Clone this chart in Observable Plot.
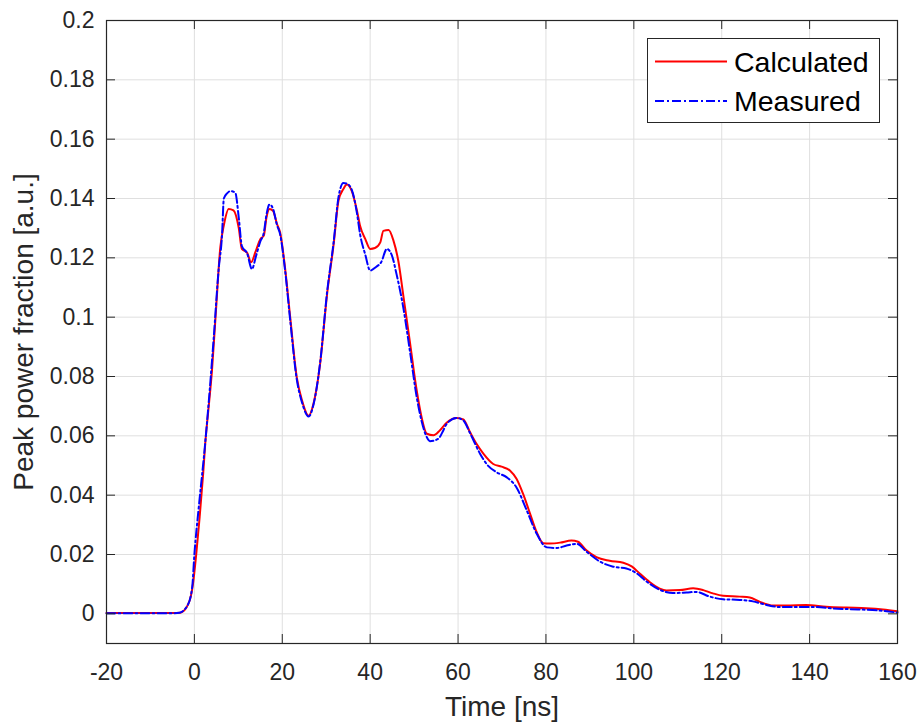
<!DOCTYPE html>
<html>
<head>
<meta charset="utf-8">
<script src="https://cdn.jsdelivr.net/npm/d3@7"></script>
<script src="https://cdn.jsdelivr.net/npm/@observablehq/plot@0.6"></script>
<style>
  html, body { margin: 0; padding: 0; background: #fff; }
  #wrap { position: relative; width: 919px; height: 722px; }
  #legend { position: absolute; left: 0; top: 0; }
</style>
</head>
<body>
<div id="wrap"></div>
<script>
// ---- data ----
const seriesNames = ["Calculated", "Measured"];
const seriesColors = ["#ff0000", "#0000ff"];

const calcT = [-20, -10, -5, -3.2, -1.3, -0.3, 0.4, 1.2, 2.0, 2.5, 3.2, 4.0, 4.9, 5.9, 6.7, 7.8, 8.9, 10.1, 10.8, 12.0, 12.9, 13.9, 15.0, 15.8, 16.4, 17.1, 17.9, 18.8, 19.5, 20.7, 21.8, 23.3, 24.5, 26.0, 27.1, 28.6, 30.2, 31.7, 32.8, 33.9, 34.7, 35.8, 37.0, 37.7, 38.9, 40.0, 41.1, 42.3, 43.0, 44.2, 45.3, 46.4, 47.6, 49.1, 50.6, 51.7, 52.9, 54.4, 55.9, 57.4, 59.7, 61.2, 62.7, 64.2, 65.8, 68.0, 69.9, 71.8, 73.3, 74.8, 76.4, 77.9, 79.4, 80.9, 83.2, 85.8, 87.3, 89.2, 91.5, 94.5, 97.6, 99.6, 101.4, 103.6, 105.9, 107.4, 110.5, 113.5, 115.8, 118.0, 120.3, 124.1, 126.4, 128.6, 131.7, 134.7, 139.2, 143.8, 148.3, 152.9, 156.7, 160];
const calcV = [0.0003, 0.0003, 0.0003, 0.0004, 0.0036, 0.0103, 0.0198, 0.0327, 0.0473, 0.058, 0.069, 0.082, 0.102, 0.1235, 0.131, 0.1365, 0.136, 0.130, 0.123, 0.1217, 0.1185, 0.122, 0.1263, 0.1275, 0.1336, 0.1365, 0.1358, 0.1314, 0.1286, 0.1157, 0.100, 0.0797, 0.0719, 0.0668, 0.0708, 0.0842, 0.1078, 0.1247, 0.1393, 0.1432, 0.1447, 0.1426, 0.1359, 0.1308, 0.1263, 0.123, 0.1233, 0.1252, 0.1291, 0.1294, 0.1258, 0.119, 0.1067, 0.091, 0.0752, 0.0663, 0.0607, 0.0602, 0.0619, 0.0644, 0.066, 0.0655, 0.0613, 0.0573, 0.0539, 0.0505, 0.0496, 0.0483, 0.0455, 0.0404, 0.0337, 0.0275, 0.0238, 0.0237, 0.024, 0.0247, 0.0243, 0.0214, 0.0191, 0.0179, 0.0172, 0.0159, 0.0135, 0.0107, 0.0085, 0.0079, 0.008, 0.0086, 0.008, 0.0069, 0.0061, 0.0058, 0.0055, 0.0041, 0.0028, 0.0028, 0.003, 0.0024, 0.0021, 0.0019, 0.0015, 0.0009];

const measT = [-20, -10, -5, -3.4, -1.5, -0.5, 0.0, 1.0, 2.3, 3.3, 4.4, 5.5, 6.3, 6.7, 7.5, 8.2, 9.3, 10.1, 10.8, 12.0, 13.1, 14.0, 15.0, 15.8, 16.4, 17.1, 17.9, 18.8, 19.5, 20.7, 21.8, 23.3, 24.5, 26.0, 27.1, 28.6, 30.2, 31.7, 32.8, 33.9, 34.7, 35.8, 37.0, 37.7, 38.9, 40.0, 41.4, 42.5, 43.8, 44.9, 46.0, 47.6, 49.1, 50.6, 51.7, 52.9, 53.6, 55.5, 56.7, 57.4, 59.7, 61.2, 62.7, 65.0, 66.5, 68.8, 71.1, 73.3, 75.6, 77.9, 80.2, 82.5, 84.7, 87.0, 89.2, 92.3, 95.3, 98.3, 100.6, 102.9, 105.9, 108.9, 112.0, 114.2, 117.3, 120.3, 124.1, 127.1, 130.2, 133.2, 137.7, 141.5, 145.3, 151.0, 156.7, 160];
const measV = [0.0002, 0.0002, 0.0002, 0.0004, 0.003, 0.009, 0.02, 0.036, 0.055, 0.072, 0.093, 0.1158, 0.128, 0.140, 0.1418, 0.1425, 0.142, 0.1335, 0.124, 0.1215, 0.1162, 0.1205, 0.1255, 0.1285, 0.1345, 0.138, 0.1365, 0.131, 0.128, 0.115, 0.099, 0.079, 0.0712, 0.0665, 0.0705, 0.0845, 0.1085, 0.1255, 0.1405, 0.1452, 0.145, 0.143, 0.135, 0.128, 0.121, 0.1157, 0.117, 0.1185, 0.123, 0.121, 0.1145, 0.1027, 0.088, 0.073, 0.065, 0.0595, 0.0582, 0.059, 0.062, 0.064, 0.066, 0.0652, 0.061, 0.054, 0.0505, 0.0477, 0.046, 0.0426, 0.035, 0.027, 0.0224, 0.0222, 0.023, 0.0236, 0.021, 0.0176, 0.0159, 0.0153, 0.0137, 0.0109, 0.0081, 0.007, 0.0072, 0.0074, 0.0058, 0.0049, 0.0047, 0.0042, 0.003, 0.0023, 0.0023, 0.0023, 0.0018, 0.0015, 0.001, 0.0004];

const xTicks = [-20, 0, 20, 40, 60, 80, 100, 120, 140, 160];
const yTicks = [0, 0.02, 0.04, 0.06, 0.08, 0.1, 0.12, 0.14, 0.16, 0.18, 0.2];
const xDomain = [-20, 160];
const yDomain = [-0.01, 0.2];
const xLabel = "Time [ns]";
const yLabel = "Peak power fraction [a.u.]";

// ---- build ----
const calc = calcT.map((t, i) => ({t, v: calcV[i]}));
const meas = measT.map((t, i) => ({t, v: measV[i]}));

const W = 919, H = 722;
const mL = 106, mR = 22, mT = 20, mB = 79;
const fw = W - mL - mR, fh = H - mT - mB;
const tickLen = 9;
const axisColor = "#262626";
const font = "'Liberation Sans', Arial, Helvetica, sans-serif";

const chart = Plot.plot({
  width: W, height: H,
  marginLeft: mL, marginRight: mR, marginTop: mT, marginBottom: mB,
  style: {fontFamily: font, background: "#fff", color: axisColor},
  x: {domain: xDomain, ticks: xTicks},
  y: {domain: yDomain, ticks: yTicks},
  marks: [
    Plot.gridX(xTicks, {stroke: "#dfdfdf", strokeOpacity: 1, strokeWidth: 1}),
    Plot.gridY(yTicks, {stroke: "#dfdfdf", strokeOpacity: 1, strokeWidth: 1}),
    Plot.line(calc, {x: "t", y: "v", stroke: seriesColors[0], strokeWidth: 2, curve: "monotone-x"}),
    Plot.line(meas, {x: "t", y: "v", stroke: seriesColors[1], strokeWidth: 2, strokeDasharray: "9,3,2,3", curve: "monotone-x"}),
    // inward ticks on all four sides
    Plot.tickX(xTicks, {x: d => d, stroke: axisColor, strokeWidth: 1, insetTop: fh - tickLen}),
    Plot.tickX(xTicks, {x: d => d, stroke: axisColor, strokeWidth: 1, insetBottom: fh - tickLen}),
    Plot.tickY(yTicks, {y: d => d, stroke: axisColor, strokeWidth: 1, insetRight: fw - tickLen}),
    Plot.tickY(yTicks, {y: d => d, stroke: axisColor, strokeWidth: 1, insetLeft: fw - tickLen}),
    Plot.frame({stroke: axisColor, strokeWidth: 1.2}),
    Plot.axisX(xTicks, {tickSize: 0, tickPadding: 20, fontSize: 23, fill: axisColor, label: null, tickFormat: d => String(d)}),
    Plot.axisY(yTicks, {tickSize: 0, tickPadding: 12, fontSize: 23, fill: axisColor, label: null, tickFormat: d => String(d)}),
    Plot.text([xLabel], {frameAnchor: "bottom", lineAnchor: "middle", textAnchor: "middle", dy: 64, fontSize: 28, fill: axisColor}),
    Plot.text([yLabel], {frameAnchor: "left", lineAnchor: "middle", textAnchor: "middle", rotate: -90, dx: -82, fontSize: 28, fill: axisColor})
  ]
});

const wrap = document.getElementById("wrap");
wrap.appendChild(chart);

// ---- legend ----
const lg = d3.select(wrap).append("svg")
  .attr("id", "legend")
  .attr("width", W).attr("height", H)
  .style("pointer-events", "none")
  .style("font-family", font);
const box = {x: 647.5, y: 38.5, w: 232, h: 84};
lg.append("rect").attr("x", box.x).attr("y", box.y).attr("width", box.w).attr("height", box.h)
  .attr("fill", "#fff").attr("stroke", axisColor).attr("stroke-width", 1);
const rows = [61.5, 101];
seriesNames.forEach((name, i) => {
  lg.append("line").attr("x1", 655).attr("x2", 727).attr("y1", rows[i]).attr("y2", rows[i])
    .attr("stroke", seriesColors[i]).attr("stroke-width", 2)
    .attr("stroke-dasharray", i === 1 ? "9,3,2,3" : null);
  lg.append("text").attr("x", 734).attr("y", rows[i]).attr("dy", "0.36em")
    .attr("font-size", 28.5).attr("fill", "#000").text(name);
});
</script>
</body>
</html>
